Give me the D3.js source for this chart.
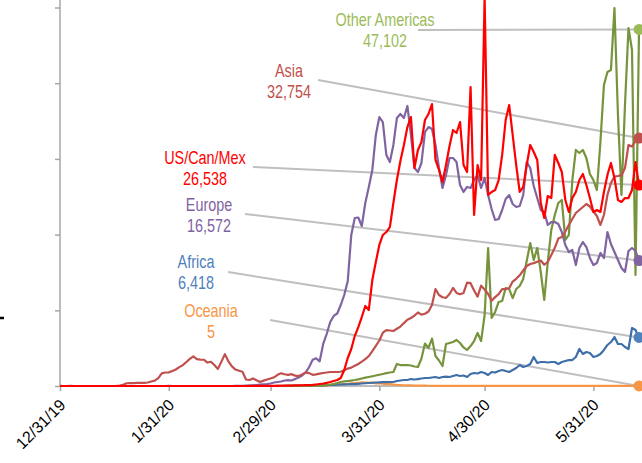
<!DOCTYPE html>
<html><head><meta charset="utf-8">
<script src="https://cdn.jsdelivr.net/npm/d3@7"></script>
<style>body{margin:0;background:#fff;}svg{display:block;}</style>
</head><body>
<svg id="chart" width="642" height="463"></svg>
<script>
const startDate = "2019-12-31";
const dayCount = 166;
const tickDates = ["2019-12-31","2020-01-31","2020-02-29","2020-03-31","2020-04-30","2020-05-31"];
const tickLabels = ["12/31/19","1/31/20","2/29/20","3/31/20","4/30/20","5/31/20"];
const yTicks = [0,10000,20000,30000,40000,50000];

const seriesNames = ["Oceania","Africa","Other Americas","Europe","Asia","US/Can/Mex"];
const lastValues = ["5","6,418","47,102","16,572","32,754","26,538"];

const oceania = [0,0,0,0,0,0,0,0,0,0,0,0,0,0,0,0,0,0,0,0,0,0,0,0,0,1,0,1,1,0,0,1,0,0,0,0,0,0,0,0,0,0,0,0,0,0,0,0,0,0,0,0,0,0,0,0,1,2,1,3,2,3,4,5,3,6,5,8,7,9,10,15,20,30,40,60,80,110,150,190,230,260,300,340,380,400,480,460,420,450,350,380,300,250,280,200,150,120,100,80,70,60,50,45,40,35,30,28,25,22,20,18,16,15,14,12,12,10,12,10,9,10,8,10,9,8,12,10,9,8,10,12,9,10,8,10,9,12,15,10,9,8,10,9,7,8,9,10,8,9,6,7,8,9,10,8,7,6,9,8,6,7,5,6,8,5];
const africa = [0,0,0,0,0,0,0,0,0,0,0,0,0,0,0,0,0,0,0,0,0,0,0,0,0,0,0,0,0,0,0,0,0,0,0,0,0,0,0,0,0,0,0,0,0,0,1,0,0,0,0,0,0,0,0,0,0,1,0,1,1,1,1,2,3,5,6,8,10,15,25,35,45,60,75,90,110,130,150,170,200,220,230,250,260,290,330,360,400,430,460,480,500,520,530,530,660,730,790,790,920,860,920,990,1060,1060,1120,1190,1060,1190,1250,1190,1320,1450,1320,1390,1190,1590,1720,1650,1850,1720,1450,1850,1780,1980,2110,1980,1850,2110,2380,2770,2510,2640,2910,3830,3040,3170,3170,3100,3170,3170,2910,3170,3300,3430,3430,3830,4890,4230,4490,4360,3830,3960,4230,4760,5420,5810,6470,5550,5550,5150,4890,7660,7400,6418];
const otherAmericas = [0,0,0,0,0,0,0,0,0,0,0,0,0,0,0,0,0,0,0,0,0,0,0,0,0,0,0,0,0,0,0,0,0,0,0,0,0,0,0,0,0,0,0,0,0,0,0,0,0,0,0,0,0,0,0,0,0,1,0,0,2,3,5,5,8,10,12,15,18,20,25,30,40,50,60,80,120,180,260,380,530,600,660,720,790,880,990,1100,1190,1290,1390,1490,1590,1700,1780,1850,2910,2770,2770,2770,2710,2580,2510,3630,5610,5020,6270,3960,3370,2640,5550,5680,5810,6080,5680,5090,4760,5280,5940,7000,5940,9380,18230,8980,9780,11100,11230,12950,12810,11620,12810,13210,14130,16510,18890,16650,18230,15060,11360,16380,20610,22590,24170,24570,19290,19950,27210,31180,30780,31180,30120,28010,27210,25890,32230,39760,41480,41740,49930,35800,25230,37120,47290,44390,14660,47102];
const europe = [0,0,0,0,0,0,0,0,0,0,0,0,0,0,0,0,0,0,0,0,0,0,0,0,2,1,1,0,1,3,2,5,2,1,3,1,0,2,1,0,0,2,1,0,0,1,3,2,1,0,5,10,20,60,80,90,130,180,230,260,330,460,530,590,730,780,730,920,1120,1390,1780,2510,3460,3660,3260,5550,6870,8450,9250,9580,10700,12020,13870,19950,22190,22260,21140,24170,26290,28540,33160,35530,34870,30510,29590,31840,35400,35930,35400,36990,33160,28800,28270,29460,33550,34210,33950,31840,28800,26160,27870,30120,30120,29590,26550,25630,26290,26160,27210,27870,26160,27480,25230,23380,21930,22060,23250,24700,25230,24040,23650,23780,25230,29590,28800,26420,24830,23250,22990,21270,21660,21660,21400,20340,18630,17700,17970,15980,18230,19020,18360,16910,15980,16250,17570,16910,20340,18760,17700,16640,15590,15060,17830,18230,17830,16572];
const asia = [27,0,0,17,0,0,0,0,0,0,0,0,0,0,0,0,20,60,150,360,370,380,400,410,420,460,590,710,1030,1660,1780,1800,1980,2180,2490,2760,3170,3580,3920,3550,3490,3470,3100,3210,2770,2260,3220,4210,3240,2590,2170,2020,1880,860,790,1000,750,530,710,860,1000,1150,1480,1680,1550,1470,1560,1370,1310,1520,1800,1700,1480,1530,1640,1720,1780,1850,1850,1850,1880,2070,2300,2430,2680,2910,3210,3550,3960,4610,5300,6010,7040,7370,7330,7270,7560,7850,8310,8750,8980,9300,9710,9430,9540,9840,10690,12810,12020,11720,11640,12150,12950,12290,12130,12290,13660,13580,12620,11810,13250,12750,12150,11250,11740,12140,12790,12810,12920,13800,14160,14620,15280,15850,16120,16230,16420,16580,16020,16380,17300,18260,19480,19680,20410,21270,22060,22850,23250,23650,24040,23710,23050,22460,21270,22590,25230,26820,27670,27740,27850,28800,31840,31640,32360,32754];
const usCanMex = [0,0,0,0,0,0,0,0,0,0,0,0,0,0,0,0,0,0,0,0,0,1,0,1,0,2,1,0,0,1,0,2,0,1,0,0,1,0,0,0,0,0,0,0,0,0,0,0,0,0,0,0,0,0,0,5,5,10,8,12,15,20,25,30,40,50,60,70,80,100,110,120,150,200,260,330,420,530,660,790,1060,2110,3700,4890,6600,7790,9110,10570,10040,14000,16380,18630,19950,20340,21000,24170,27210,29720,31840,34210,35530,28800,31180,32230,35140,35930,37250,29860,28540,26950,29190,31700,33820,33420,34870,29190,28270,39500,22590,29190,27210,51400,25230,25630,25890,27210,30520,35140,37120,33160,29190,25630,26290,29190,31840,30910,29860,24180,22190,25100,24830,30520,29460,28270,24570,22990,24830,25630,27210,28010,26550,24830,22990,23250,22990,25630,27870,29460,27480,24570,24310,24830,24830,25890,29590,26538];

const lineColors = ["#f79646","#3f6fa8","#77933c","#8064a2","#c0504d","#ff0000"];
const labelColors = ["#f79646","#4f81bd","#9bbb59","#8064a2","#c0504d","#ff0000"];
const dotColors = ["#f79646","#4f81bd","#9bbb59","#8064a2","#c0504d","#ff0000"];
const seriesData = [oceania, africa, otherAmericas, europe, asia, usCanMex];

// label anchor (center x, first baseline y) and leader start
const labelPos = [[211,317,270,320],[196,268,228,272],[385,26,418,30],[209,211,245,214],[289,77,318,80],[205,164,253,167]];

const svg = d3.select("#chart");
const parse = d3.timeParse("%Y-%m-%d");
const start = parse(startDate);
const dates = d3.range(dayCount).map(i => d3.timeDay.offset(start, i));

const x = d3.scaleTime().domain([start, parse("2020-05-31")]).range([60, 593.4]);
const y = d3.scaleLinear().domain([0, 50000]).range([386, 7.5]);

// y axis
const yAxis = svg.append("g").attr("transform","translate(60,0)")
  .call(d3.axisLeft(y).tickValues(yTicks).tickSize(5).tickFormat(""));
yAxis.select(".domain").remove();
yAxis.selectAll(".tick line").attr("stroke","#a6a6a6").attr("stroke-width",1.5);
svg.append("line").attr("x1",60).attr("x2",60).attr("y1",y(51000)).attr("y2",y(0))
  .attr("stroke","#a6a6a6").attr("stroke-width",1.5);

// x axis
const xAxis = svg.append("g").attr("transform",`translate(0,${y(0)})`)
  .call(d3.axisBottom(x).tickValues(tickDates.map(parse)).tickSize(5).tickFormat((d,i)=>tickLabels[i]));
xAxis.select(".domain").attr("d",`M60,0H${x(dates[dayCount-1])}`).attr("stroke","#a6a6a6").attr("stroke-width",1.5);
xAxis.selectAll(".tick line").attr("stroke","#a6a6a6").attr("stroke-width",1.5);
xAxis.selectAll(".tick text")
  .attr("font-family","Liberation Sans, Arial, sans-serif").attr("font-size",16).attr("fill","#000")
  .attr("text-anchor","end").attr("dy",null).attr("y",null)
  .attr("transform","translate(6,20) rotate(-45)");

// leader lines
seriesData.forEach((s,k)=>{
  const lp = labelPos[k];
  svg.append("polyline")
    .attr("points",`${lp[2]},${lp[3]} ${x(dates[dayCount-1])},${y(s[dayCount-1])}`)
    .attr("fill","none").attr("stroke","#bfbfbf").attr("stroke-width",2);
});

// lines
const line = d3.line().x((d,i)=>x(dates[i])).y(d=>y(d));
seriesData.forEach((s,k)=>{
  svg.append("path").datum(s).attr("d",line).attr("fill","none")
    .attr("stroke",lineColors[k]).attr("stroke-width",2.2).attr("stroke-linejoin","round");
});

// end dots
seriesData.forEach((s,k)=>{
  svg.append("circle").attr("cx",x(dates[dayCount-1])).attr("cy",y(s[dayCount-1])).attr("r",5.5)
    .attr("fill",dotColors[k]);
});

// labels (condensed look)
seriesData.forEach((s,k)=>{
  const lp = labelPos[k];
  const t = svg.append("text").attr("text-anchor","middle")
    .attr("transform",`translate(${lp[0]},0) scale(0.8,1)`)
    .attr("font-family","Liberation Sans, Arial, sans-serif").attr("font-size",18)
    .attr("fill",labelColors[k]);
  t.append("tspan").attr("x",0).attr("y",lp[1]).text(seriesNames[k]);
  t.append("tspan").attr("x",0).attr("y",lp[1]+21).text(lastValues[k]);
});

// cut-off fragment at the left edge
svg.append("line").attr("x1",0).attr("x2",4).attr("y1",318).attr("y2",318)
  .attr("stroke","#000").attr("stroke-width",2.5);
</script>
</body></html>
